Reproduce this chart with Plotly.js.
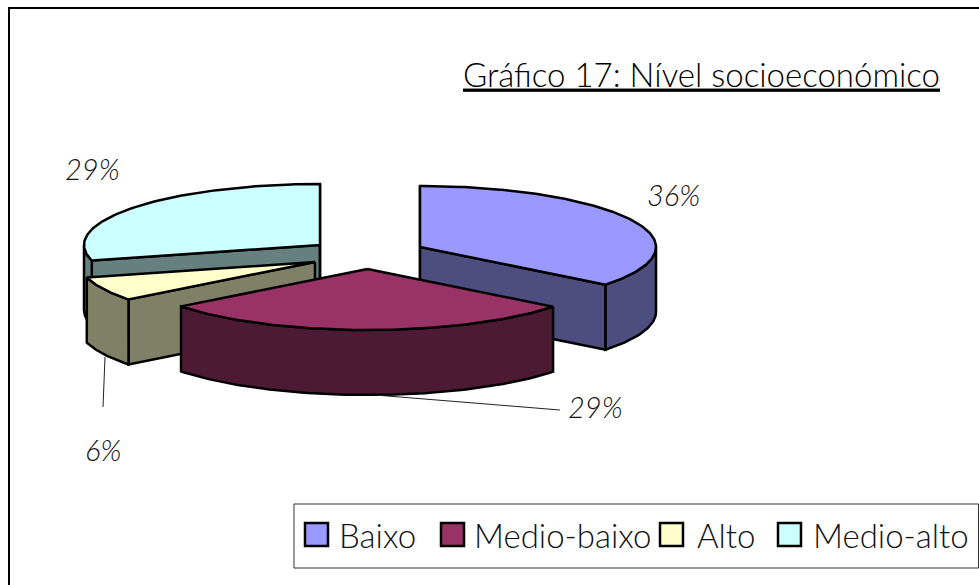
<!DOCTYPE html>
<html>
<head>
<meta charset="utf-8">
<script src="https://cdn.plot.ly/plotly-3.0.0.min.js"></script>
<style>html,body{margin:0;padding:0;background:#fff;overflow:hidden}</style>
</head>
<body>
<div id="chart" style="width:979px;height:585px"></div>
<script>
// ---- data ----
const categories = ["Baixo", "Medio-baixo", "Alto", "Medio-alto"];
const shareValues = [35.6, 28.9, 6.4, 29.1];

// ---- styles and placement ----
const topColors  = ["#9999FF", "#993366", "#FFFFCC", "#CCFFFF"];
const wallColors = ["#4D4D80", "#4D1A33", "#808066", "#668080"];
const sliceCentres = [[420, 247], [367.5, 269], [315, 262], [320, 245]];
const drawOrder = [3, 0, 2, 1];
const radiusX = 236, radiusY = 61, depth = 65;
const percentLabelSpots = [[673, 194], [595, 406], [103, 449], [92, 168]];
const swatchLefts = [305, 441, 660, 778];
const legendTextLefts = [337, 472, 695, 811];
const FONT = "Lato, 'Open Sans', sans-serif";

// ---- pie geometry, derived from the values ----
const total = shareValues.reduce((a, b) => a + b, 0);
const rad = d => d * Math.PI / 180;
function rim(c, deg) {
  return [c[0] + radiusX * Math.sin(rad(deg)), c[1] - radiusY * Math.cos(rad(deg))];
}
function arc(c, from, to) {
  const pts = [], n = Math.max(2, Math.ceil(Math.abs(to - from)));
  for (let i = 0; i <= n; i++) pts.push(rim(c, from + (to - from) * i / n));
  return pts;
}
function poly(points, fill, name) {
  const xs = points.map(p => p[0]), ys = points.map(p => p[1]);
  xs.push(xs[0]); ys.push(ys[0]);
  return {type: "scatter", mode: "lines", x: xs, y: ys, fill: "toself", fillcolor: fill,
    line: {color: "#000", width: 2.5}, name: name, showlegend: false, hoverinfo: "name"};
}
const spans = [];
let running = 0;
shareValues.forEach(v => { const a = running; running += v / total * 360; spans.push([a, running]); });

const traces = [];
drawOrder.forEach(i => {
  const c = sliceCentres[i], [a, b] = spans[i], name = categories[i], wall = wallColors[i];
  const down = p => [p[0], p[1] + depth];
  const radial = deg => { const r = rim(c, deg); return poly([c, r, down(r), down(c)], wall, name); };
  // radial faces turned towards the viewer
  if (Math.sin(rad(a)) < 1e-6) traces.push(radial(a));
  if (Math.sin(rad(b)) > -1e-6) traces.push(radial(b));
  // rim wall: the part of the arc on the near side
  const from = Math.max(a, 90), to = Math.min(b, 270);
  if (to > from) {
    const top = arc(c, from, to);
    traces.push(poly(top.concat(top.slice().reverse().map(down)), wall, name));
  }
  traces.push(poly([c].concat(arc(c, a, b)), topColors[i], name));
});

// ---- frame, legend box, leader lines ----
const shapes = [
  {type: "rect", x0: 9, x1: 1000, y0: 8, y1: 620, line: {color: "#000", width: 2}},
  {type: "rect", x0: 294, x1: 978.5, y0: 504, y1: 568, fillcolor: "#fff", line: {color: "#333", width: 1}},
  {type: "line", x0: 105, y0: 357, x1: 103, y1: 407, line: {color: "#222", width: 1}},
  {type: "line", x0: 375, y0: 395, x1: 560, y1: 410, line: {color: "#222", width: 1}}
];
categories.forEach((cat, i) => {
  shapes.push({type: "rect", x0: swatchLefts[i], x1: swatchLefts[i] + 23, y0: 523, y1: 546,
    fillcolor: topColors[i], line: {color: "#000", width: 2.5}});
});

const annotations = [];
shareValues.forEach((v, i) => annotations.push({
  x: percentLabelSpots[i][0], y: percentLabelSpots[i][1], xref: "x", yref: "y",
  text: Math.round(v) + "%", showarrow: false, xanchor: "center", yanchor: "middle",
  font: {family: FONT, size: 29, color: "#111", style: "italic", weight: 300}
}));
categories.forEach((cat, i) => annotations.push({
  x: legendTextLefts[i], y: 535, xref: "x", yref: "y", text: cat, showarrow: false,
  xanchor: "left", yanchor: "middle", font: {family: FONT, size: 33, color: "#111", weight: 300}
}));

const layout = {
  width: 979, height: 585,
  margin: {l: 0, r: 0, t: 0, b: 0},
  paper_bgcolor: "#fff", plot_bgcolor: "#fff",
  showlegend: false,
  title: {text: "Gráfico 17: Nível socioeconómico", xref: "container", yref: "container",
    x: 940 / 979, xanchor: "right", y: 1 - 75 / 585, yanchor: "middle",
    font: {family: FONT, size: 33, color: "#000", lineposition: "under", weight: 300}},
  xaxis: {range: [0, 979], visible: false, fixedrange: true},
  yaxis: {range: [585, 0], visible: false, fixedrange: true},
  shapes: shapes,
  annotations: annotations
};
Plotly.newPlot("chart", traces, layout, {displayModeBar: false, staticPlot: true});
</script>
</body>
</html>
